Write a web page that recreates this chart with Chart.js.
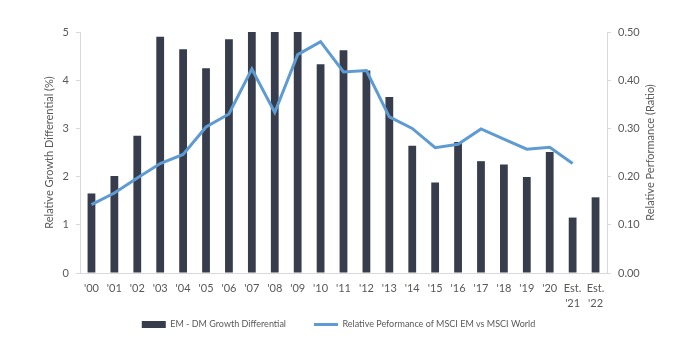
<!DOCTYPE html>
<html>
<head>
<meta charset="utf-8">
<script src="https://cdn.jsdelivr.net/npm/chart.js@4"></script>
<style>
html,body{margin:0;padding:0;background:#fff;}
#wrap{width:677px;height:356px;position:relative;}
</style>
</head>
<body>
<div id="wrap"><canvas id="c" width="677" height="356"></canvas></div>
<script>
const categories = ["'00","'01","'02","'03","'04","'05","'06","'07","'08","'09","'10","'11","'12","'13","'14","'15","'16","'17","'18","'19","'20",["Est.","'21"],["Est.","'22"]];
const growthDifferential = [1.65,2.01,2.85,4.90,4.64,4.25,4.85,5.0,5.0,5.0,4.33,4.62,4.20,3.65,2.64,1.88,2.72,2.32,2.25,1.99,2.51,1.15,1.57];
const relativePerformance = [0.142,0.166,0.197,0.227,0.246,0.303,0.330,0.423,0.333,0.453,0.480,0.417,0.420,0.324,0.300,0.260,0.267,0.299,0.278,0.257,0.261,0.227,null];
const leftTicks = [0,1,2,3,4,5];
const rightTicks = [0,0.1,0.2,0.3,0.4,0.5];
const rightTitle = 'Relative Performance (Ratio)';

const textColor = '#595959';
const axisColor = '#d9d9d9';
const fontFamily = 'Lato, "Open Sans", sans-serif';

new Chart(document.getElementById('c'), {
  data: {
    labels: categories,
    datasets: [
      {
        type: 'bar',
        label: 'EM - DM Growth Differential',
        data: growthDifferential,
        backgroundColor: '#373d4c',
        borderWidth: 0,
        yAxisID: 'y',
        order: 1,
        categoryPercentage: 1,
        barPercentage: 0.34
      },
      {
        type: 'line',
        label: 'Relative Peformance of MSCI EM vs MSCI World',
        data: relativePerformance,
        borderColor: '#5f9bd3',
        backgroundColor: '#5f9bd3',
        borderWidth: 3,
        pointRadius: 0,
        tension: 0,
        yAxisID: 'y1',
        order: 0
      }
    ]
  },
  options: {
    responsive: false,
    animation: false,
    layout: { padding: { top: 32, left: 0, right: 0, bottom: -2 } },
    plugins: {
      tooltip: { enabled: false },
      legend: {
        position: 'bottom',
        sort: (a, b) => a.datasetIndex - b.datasetIndex,
        labels: {
          color: textColor,
          font: { family: fontFamily, size: 9 },
          usePointStyle: true,
          pointStyleWidth: 24,
          boxHeight: 7,
          padding: 28,
          generateLabels: (chart) => {
            return chart.data.datasets.map((ds, i) => ({
              text: ds.label,
              datasetIndex: i,
              fillStyle: ds.type === 'bar' ? ds.backgroundColor : ds.borderColor,
              strokeStyle: ds.type === 'bar' ? ds.backgroundColor : ds.borderColor,
              lineWidth: ds.type === 'bar' ? 0 : 3,
              pointStyle: ds.type === 'bar' ? 'rect' : 'line',
              fontColor: textColor,
              hidden: false
            }));
          }
        }
      }
    },
    scales: {
      x: {
        grid: { display: false, drawTicks: false },
        border: { display: true, color: axisColor },
        ticks: {
          color: textColor,
          font: { family: fontFamily, size: 11, lineHeight: 1.35 },
          padding: 8,
          maxRotation: 0,
          autoSkip: false
        },
        afterFit: (s) => { s.height = 38; }
      },
      y: {
        position: 'left',
        min: 0, max: 5,
        afterBuildTicks: (s) => { s.ticks = leftTicks.map(v => ({ value: v })); },
        grid: { drawOnChartArea: false, drawTicks: true, tickLength: 4, color: axisColor },
        border: { display: true, color: axisColor },
        ticks: {
          color: textColor,
          font: { family: fontFamily, size: 11 },
          padding: 7,
          callback: (v) => String(v)
        },
        title: {
          display: true,
          text: 'Relative Growth Differential (%)',
          color: textColor,
          font: { family: fontFamily, size: 11 },
          padding: { top: 43, bottom: 0 }
        },
        afterFit: (s) => { s.width = 80; }
      },
      y1: {
        position: 'right',
        min: 0, max: 0.5,
        afterBuildTicks: (s) => { s.ticks = rightTicks.map(v => ({ value: v })); },
        grid: { drawOnChartArea: false, drawTicks: true, tickLength: 4, color: axisColor },
        border: { display: true, color: axisColor },
        ticks: {
          color: textColor,
          font: { family: fontFamily, size: 11 },
          padding: 7,
          callback: (v) => Number(v).toFixed(2)
        },
        title: { display: false },
        afterFit: (s) => { s.width = 70; }
      }
    }
  },
  plugins: [{
    id: 'legendShift',
    afterLayout: (chart) => {
      const lg = chart.legend;
      if (lg) {
        const h = lg.bottom - lg.top;
        lg.top = 292;
        lg.bottom = 292 + h;
      }
    },
    afterDraw: (chart) => {
      const s = chart.scales.y1;
      const ctx = chart.ctx;
      ctx.save();
      ctx.translate(s.right - 27, (chart.chartArea.top + chart.chartArea.bottom) / 2);
      ctx.rotate(-Math.PI / 2);
      ctx.fillStyle = textColor;
      ctx.font = '11px ' + fontFamily;
      ctx.textAlign = 'center';
      ctx.textBaseline = 'middle';
      ctx.fillText(rightTitle, 0, 0);
      ctx.restore();
    }
  }]
});
</script>
</body>
</html>
